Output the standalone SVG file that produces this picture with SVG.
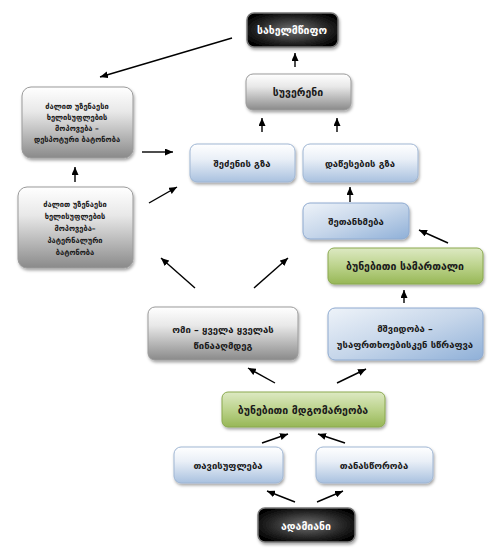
<svg xmlns="http://www.w3.org/2000/svg" width="500" height="552" viewBox="0 0 500 552">
<defs>
<linearGradient id="gGray" x1="0" y1="0" x2="0" y2="1">
<stop offset="0" stop-color="#ffffff"/><stop offset="0.35" stop-color="#e8e8e8"/><stop offset="1" stop-color="#8a8a8a"/>
</linearGradient>
<linearGradient id="gBlue" x1="0" y1="0" x2="0" y2="1">
<stop offset="0" stop-color="#ffffff"/><stop offset="0.4" stop-color="#e9eff7"/><stop offset="1" stop-color="#a9c1df"/>
</linearGradient>
<linearGradient id="gBlue2" x1="0" y1="0" x2="1" y2="1">
<stop offset="0" stop-color="#eef3f9"/><stop offset="0.5" stop-color="#c6d6ea"/><stop offset="1" stop-color="#8fb0d8"/>
</linearGradient>
<linearGradient id="gGreen" x1="0" y1="0" x2="0" y2="1">
<stop offset="0" stop-color="#dde9c3"/><stop offset="0.5" stop-color="#bcd38c"/><stop offset="1" stop-color="#97b756"/>
</linearGradient>
<radialGradient id="gDark" cx="0.5" cy="0.5" r="0.6">
<stop offset="0" stop-color="#707070"/><stop offset="0.6" stop-color="#2a2a2a"/><stop offset="1" stop-color="#000000"/>
</radialGradient>
<filter id="sh" x="-10%" y="-10%" width="125%" height="135%">
<feDropShadow dx="1" dy="2" stdDeviation="1.5" flood-color="#000" flood-opacity="0.35"/>
</filter>
<marker id="ah" markerWidth="8" markerHeight="7" refX="8" refY="3.5" orient="auto" markerUnits="userSpaceOnUse">
<path d="M0,0 L8,3.5 L0,7 Z" fill="#000"/>
</marker>
<style>
.gray{fill:url(#gGray);stroke:#9a9a9a;stroke-width:1}
.blue{fill:url(#gBlue);stroke:#9fb6d3;stroke-width:1}
.blue2{fill:url(#gBlue2);stroke:#8eaad0;stroke-width:1}
.green{fill:url(#gGreen);stroke:#8aa94e;stroke-width:1}
.dark{fill:url(#gDark);stroke:#777;stroke-width:1.5}
rect{filter:url(#sh)}
text{font-family:"DejaVu Sans","Noto Sans",sans-serif;font-weight:bold;text-anchor:middle;fill:#1a1a1a}
.t9{font-size:10.5px}
.t8{font-size:9.5px}
.t7{font-size:7.5px}
.w{fill:#ffffff}
.c line{stroke:#000;stroke-width:1.4;marker-end:url(#ah)}
</style>
</defs>
<rect width="500" height="552" fill="#ffffff" style="filter:none"/>

<g id="connectors" class="c">
<line x1="295" y1="67" x2="295" y2="53"/>
<line x1="262" y1="132" x2="262" y2="118"/>
<line x1="337" y1="132" x2="337" y2="118"/>
<line x1="350" y1="202" x2="350" y2="187"/>
<line x1="448" y1="243" x2="419" y2="230"/>
<line x1="404" y1="303" x2="404" y2="290"/>
<line x1="275" y1="383" x2="248" y2="368"/>
<line x1="337" y1="383" x2="366" y2="369"/>
<line x1="262" y1="443" x2="288" y2="434"/>
<line x1="345" y1="443" x2="318" y2="434"/>
<line x1="295" y1="502" x2="267" y2="491"/>
<line x1="317" y1="502" x2="343" y2="491"/>
<line x1="195" y1="288" x2="161" y2="258"/>
<line x1="254" y1="288" x2="288" y2="258"/>
<line x1="149" y1="203" x2="177" y2="187"/>
<line x1="142" y1="152" x2="173" y2="152"/>
<line x1="75" y1="182" x2="75" y2="167"/>
<line x1="232" y1="38" x2="100" y2="77"/>
</g>

<g id="state"><rect class="dark" x="247" y="13" width="91" height="34" rx="7"/><text class="t9 w" x="292" y="34">სახელმწიფო</text></g>
<g id="sovereign"><rect class="gray" x="246" y="74" width="105" height="36" rx="7"/><text class="t9" x="298" y="96">სუვერენი</text></g>
<g id="acquisition"><rect class="blue" x="190" y="144" width="105" height="38" rx="7"/><text class="t8" x="242" y="167">შეძენის გზა</text></g>
<g id="institution"><rect class="blue" x="303" y="144" width="115" height="38" rx="7"/><text class="t8" x="360" y="167">დაწესების გზა</text></g>
<g id="agreement"><rect class="blue2" x="303" y="203" width="106" height="36" rx="7"/><text class="t8" x="356" y="225">შეთანხმება</text></g>
<g id="natural-law"><rect class="green" x="328" y="248" width="155" height="36" rx="6"/><text class="t9" x="405" y="270">ბუნებითი სამართალი</text></g>
<g id="peace"><rect class="blue2" x="328" y="308" width="155" height="52" rx="7"/><text class="t8" x="405" y="332">მშვიდობა –</text><text class="t8" x="405" y="348">უსაფრთხოებისკენ სწრაფვა</text></g>
<g id="war"><rect class="gray" x="148" y="307" width="150" height="53" rx="7"/><text class="t8" x="223" y="333">ომი – ყველა ყველას</text><text class="t8" x="223" y="349">წინააღმდეგ</text></g>
<g id="state-of-nature"><rect class="green" x="222" y="392" width="163" height="35" rx="6"/><text class="t9" x="303" y="414">ბუნებითი მდგომარეობა</text></g>
<g id="freedom"><rect class="blue" x="174" y="447" width="109" height="36" rx="7"/><text class="t8" x="228" y="469">თავისუფლება</text></g>
<g id="equality"><rect class="blue" x="316" y="447" width="117" height="36" rx="7"/><text class="t8" x="374" y="469">თანასწორობა</text></g>
<g id="human"><rect class="dark" x="258" y="508" width="97" height="34" rx="7"/><text class="t9 w" x="306" y="530">ადამიანი</text></g>
<g id="despotic"><rect class="gray" x="22" y="87" width="111" height="71" rx="9"/>
<text class="t7" x="77" y="109">ძალით უზენაესი</text><text class="t7" x="77" y="120">ხელისუფლების</text><text class="t7" x="77" y="131">მოპოვება –</text><text class="t7" x="77" y="142">დესპოტური ბატონობა</text></g>
<g id="paternal"><rect class="gray" x="18" y="187" width="115" height="81" rx="9"/>
<text class="t7" x="75" y="207">ძალით უზენაესი</text><text class="t7" x="75" y="219">ხელისუფლების</text><text class="t7" x="75" y="231">მოპოვება–</text><text class="t7" x="75" y="243">პატერნალური</text><text class="t7" x="75" y="255">ბატონობა</text></g>
</svg>
